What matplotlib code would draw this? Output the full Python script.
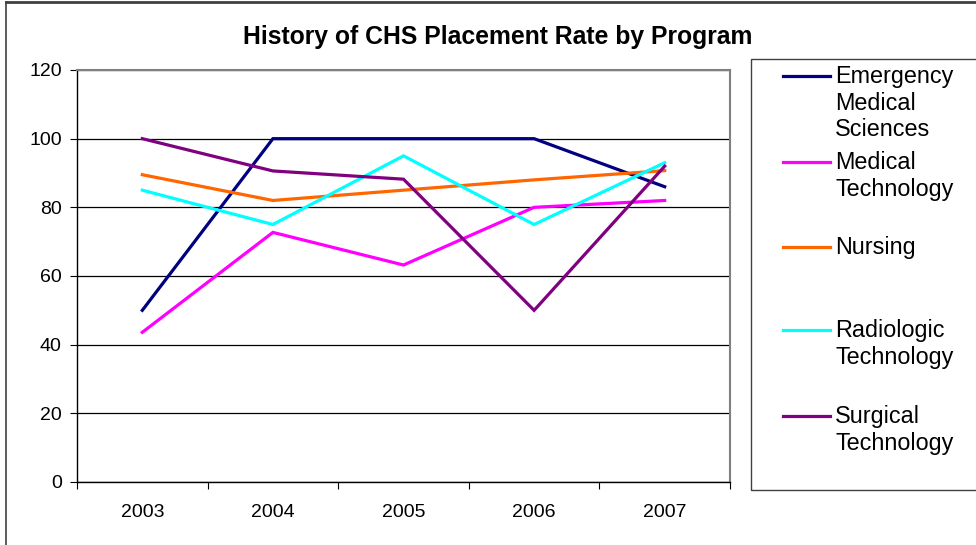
import matplotlib
matplotlib.use("Agg")
import matplotlib.pyplot as plt
from matplotlib.lines import Line2D
from matplotlib.patches import Rectangle

plt.rcParams["font.family"] = ["Liberation Sans", "DejaVu Sans"]

years = ["2003", "2004", "2005", "2006", "2007"]
programs = [
    "Emergency\nMedical\nSciences",
    "Medical\nTechnology",
    "Nursing",
    "Radiologic\nTechnology",
    "Surgical\nTechnology",
]
ems = [50, 100, 100, 100, 86]
med_tech = [43.6, 72.7, 63.2, 80, 82]
nursing = [89.5, 82, 85, 88, 90.7]
radiologic = [85, 75, 95, 75, 93]
surgical = [100, 90.6, 88.2, 50, 92]
colors = ["#000080", "#FF00FF", "#FF6600", "#00FFFF", "#800080"]

W, H = 976, 545
fig = plt.figure(figsize=(W / 100, H / 100), dpi=100)

# outer chart border (only top/left visible in the reference)
fig.add_artist(Line2D([6 / W, 6 / W], [0, 1 - 2 / H], color="#404040", lw=1.2))
fig.add_artist(Line2D([6 / W, 1], [1 - 2 / H, 1 - 2 / H], color="#404040", lw=2))

ax = fig.add_axes([77 / W, 1 - 482 / H, 653 / W, 412 / H])
x = list(range(len(years)))
for vals, c in zip([ems, med_tech, nursing, radiologic, surgical], colors):
    ax.plot(x, vals, color=c, lw=2.3, solid_joinstyle="miter", zorder=3)

ax.set_xlim(-0.5, len(years) - 0.5)
ax.set_ylim(0, 120)
ax.set_yticks(range(0, 121, 20))
ax.yaxis.grid(True, color="black", lw=0.9)
ax.set_axisbelow(True)

ax.set_xticks([i - 0.5 for i in range(len(years) + 1)])
ax.set_xticklabels([])
ax.set_xticks(x, minor=True)
ax.set_xticklabels(years, minor=True)
ax.tick_params(axis="x", which="major", length=5, direction="out", color="black")
ax.tick_params(axis="x", which="minor", length=0, pad=16, labelsize=14)
ax.tick_params(axis="y", length=5, direction="out", pad=6, labelsize=14)

for s in ["left", "bottom"]:
    ax.spines[s].set_color("black")
    ax.spines[s].set_linewidth(1.0)
for s in ["top", "right"]:
    ax.spines[s].set_color("#808080")
    ax.spines[s].set_linewidth(1.5)

fig.text(498 / W, 1 - 37 / H, "History of CHS Placement Rate by Program",
         ha="center", va="center", fontsize=17.8, fontweight="bold")

# legend drawn by hand to copy the spacing of the original
fig.add_artist(Rectangle((751 / W, 1 - 490 / H), 300 / W, 431 / H,
                         transform=fig.transFigure, fill=False,
                         edgecolor="#404040", lw=1))
handle_y = [76, 162, 247, 330, 416]
for label, c, hy in zip(programs, colors, handle_y):
    yf = 1 - hy / H
    fig.add_artist(Line2D([783 / W, 830 / W], [yf, yf], color=c, lw=2.3))
    fig.text(835 / W, 1 - (hy - 11) / H, label, ha="left", va="top",
             fontsize=16.8, linespacing=1.2)

fig.savefig("out.png", dpi=100)
